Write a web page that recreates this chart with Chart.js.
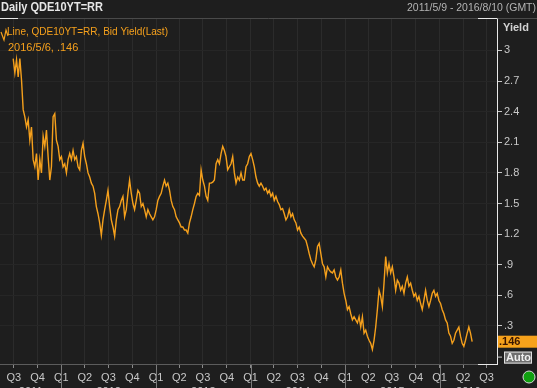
<!DOCTYPE html>
<html>
<head>
<meta charset="utf-8">
<script src="https://cdn.jsdelivr.net/npm/chart.js@4/dist/chart.umd.min.js"></script>
<style>
  html, body { margin: 0; padding: 0; background: #1e1e1e; overflow: hidden; }
  #wrap { width: 537px; height: 388px; }
</style>
</head>
<body>
<div id="wrap"><canvas id="c" width="537" height="388"></canvas></div>
<script>
// ---- Data ----
const titleText = 'Daily QDE10YT=RR';
const rangeText = '2011/5/9 - 2016/8/10 (GMT)';
const seriesName = 'Line, QDE10YT=RR, Bid Yield(Last)';
const lastLabel = '2016/5/6, .146';
const lastValueText = '.146';
const axisStartDate = '2011-05-09';
const axisEndDate = '2016-08-10';
const firstSampleDate = '2011-06-29';
const lastSampleDate = '2016-05-06';

// roughly weekly samples of the bid yield (%)
const yields = [
  2.92,2.78,2.91,2.74,2.92,2.71,2.42,2.35,2.25,2.32,
  2.12,2.25,1.93,1.86,1.99,1.73,1.93,1.80,2.16,2.06,
  2.22,1.96,1.73,1.86,2.35,2.38,2.12,2.06,1.93,1.96,
  1.86,1.89,1.80,1.93,1.99,1.93,2.02,1.93,1.96,1.86,
  1.83,2.02,2.09,1.96,1.89,1.80,1.76,1.70,1.67,1.60,
  1.47,1.40,1.31,1.19,1.34,1.44,1.53,1.63,1.47,1.34,
  1.27,1.18,1.34,1.44,1.47,1.53,1.57,1.37,1.44,1.60,
  1.73,1.60,1.50,1.44,1.53,1.63,1.60,1.47,1.50,1.44,
  1.37,1.44,1.40,1.37,1.34,1.37,1.44,1.53,1.57,1.60,
  1.67,1.73,1.67,1.70,1.63,1.53,1.47,1.44,1.37,1.34,
  1.31,1.27,1.27,1.24,1.24,1.21,1.31,1.37,1.44,1.50,
  1.57,1.60,1.58,1.83,1.73,1.67,1.57,1.53,1.70,1.70,
  1.71,1.73,1.89,1.93,1.89,1.99,2.06,2.02,1.96,1.83,
  1.86,1.89,1.96,1.80,1.70,1.76,1.73,1.80,1.73,1.73,
  1.86,1.89,1.96,1.99,1.93,1.86,1.76,1.70,1.67,1.70,
  1.67,1.63,1.65,1.60,1.63,1.57,1.60,1.53,1.57,1.52,
  1.49,1.44,1.45,1.40,1.34,1.37,1.44,1.37,1.40,1.34,
  1.31,1.24,1.27,1.21,1.18,1.16,1.14,1.08,1.01,0.95,
  0.91,0.88,0.95,1.08,1.11,1.01,0.91,0.88,0.78,0.88,
  0.85,0.83,0.82,0.85,0.78,0.75,0.78,0.85,0.72,0.62,
  0.55,0.46,0.49,0.42,0.36,0.39,0.36,0.33,0.39,0.29,
  0.39,0.23,0.26,0.20,0.16,0.13,0.07,0.16,0.29,0.46,
  0.65,0.59,0.49,0.72,0.98,0.82,0.91,0.82,0.88,0.78,
  0.65,0.75,0.72,0.65,0.69,0.62,0.72,0.78,0.69,0.72,
  0.65,0.59,0.62,0.55,0.59,0.52,0.46,0.55,0.65,0.55,
  0.49,0.55,0.62,0.65,0.59,0.62,0.55,0.52,0.46,0.42,
  0.36,0.33,0.23,0.20,0.13,0.16,0.23,0.26,0.29,0.20,
  0.13,0.10,0.16,0.23,0.29,0.23,0.146
];

const quarterDates = ['2011-07-01','2011-10-01','2012-01-01','2012-04-01','2012-07-01','2012-10-01',
  '2013-01-01','2013-04-01','2013-07-01','2013-10-01','2014-01-01','2014-04-01','2014-07-01','2014-10-01',
  '2015-01-01','2015-04-01','2015-07-01','2015-10-01','2016-01-01','2016-04-01','2016-07-01'];
const quarterLabels = ['Q3','Q4','Q1','Q2','Q3','Q4','Q1','Q2','Q3','Q4','Q1','Q2','Q3','Q4',
  'Q1','Q2','Q3','Q4','Q1','Q2','Q3'];
const yearLabels = ['2011','2012','2013','2014','2015','2016'];
const yearStarts = ['2011-01-01','2012-01-01','2013-01-01','2014-01-01','2015-01-01','2016-01-01','2017-01-01'];
const yTickValues = [0.3,0.6,0.9,1.2,1.5,1.8,2.1,2.4,2.7,3.0];
const yMin = -0.0725, yMax = 3.318;

// ---- helpers ----
const day = s => Date.parse(s + 'T00:00:00Z') / 864e5;
const xMin = day(axisStartDate), xMax = day(axisEndDate);
const x0 = day(firstSampleDate), x1 = day(lastSampleDate);
const points = yields.map((v, i) => ({ x: x0 + (x1 - x0) * i / (yields.length - 1), y: v }));
const fmtY = v => { const s = (Math.round(v * 10) / 10).toString(); return s.startsWith('0.') ? s.slice(1) : s; };

const FONT = '"Liberation Sans", Arial, sans-serif';
const ORANGE = '#f5a01c';

function fitText(ctx, text, x, y, maxW) {
  const w = ctx.measureText(text).width;
  if (w <= maxW) { ctx.fillText(text, x, y); return; }
  const k = maxW / w;
  ctx.save();
  ctx.translate(x, y);
  ctx.scale(k, 1);
  ctx.fillText(text, 0, 0);
  ctx.restore();
}

const overlay = {
  id: 'overlay',
  beforeDraw(chart) {
    const ctx = chart.ctx;
    ctx.save();
    ctx.fillStyle = '#1e1e1e';
    ctx.fillRect(0, 0, chart.width, chart.height);
    ctx.restore();
  },
  afterDraw(chart) {
    const ctx = chart.ctx, a = chart.chartArea, xs = chart.scales.x, ys = chart.scales.y;
    ctx.save();
    // title bar
    ctx.fillStyle = '#e6e6e6';
    ctx.font = 'bold 12px ' + FONT;
    ctx.textBaseline = 'middle';
    ctx.textAlign = 'left';
    fitText(ctx, titleText, 1, 8, 102);
    ctx.fillStyle = '#b4b4b4';
    ctx.font = '11px ' + FONT;
    const rw = Math.min(ctx.measureText(rangeText).width, 129);
    fitText(ctx, rangeText, 536 - rw, 8, 129);
    // separator line under title
    ctx.strokeStyle = '#4a4a4a';
    ctx.lineWidth = 1;
    ctx.beginPath(); ctx.moveTo(0, a.top + 0.5); ctx.lineTo(chart.width, a.top + 0.5); ctx.stroke();
    // white corner segments
    ctx.strokeStyle = '#e8e8e8';
    ctx.beginPath();
    ctx.moveTo(0, a.top + 0.5); ctx.lineTo(18, a.top + 0.5);
    ctx.moveTo(a.right - 19, a.top + 0.5); ctx.lineTo(a.right + 0.5, a.top + 0.5);
    ctx.moveTo(a.right - 19, a.bottom + 0.5); ctx.lineTo(a.right + 0.5, a.bottom + 0.5);
    ctx.stroke();
    // legend icon
    ctx.strokeStyle = ORANGE;
    ctx.lineWidth = 1.2;
    ctx.beginPath();
    ctx.moveTo(1, 32); ctx.lineTo(4, 40); ctx.lineTo(6, 30); ctx.lineTo(8, 36);
    ctx.stroke();
    // legend text
    ctx.fillStyle = ORANGE;
    ctx.font = '11px ' + FONT;
    ctx.textAlign = 'left';
    ctx.textBaseline = 'middle';
    fitText(ctx, seriesName, 7, 32, 161);
    ctx.fillText(lastLabel, 8, 48);
    // y axis title
    ctx.fillStyle = '#d2d2d2';
    ctx.font = 'bold 11px ' + FONT;
    ctx.fillText('Yield', 503, 28);
    // last value box
    const yl = ys.getPixelForValue(yields[yields.length - 1]);
    ctx.fillStyle = '#f7a21b';
    ctx.fillRect(a.right + 1, yl - 6, chart.width - a.right - 1, 12);
    ctx.fillStyle = '#3a1600';
    ctx.font = 'bold 11px ' + FONT;
    ctx.fillText(lastValueText, a.right + 2, yl);
    // Auto box
    const y0 = ys.getPixelForValue(0);
    ctx.strokeStyle = '#cfcfcf';
    ctx.lineWidth = 1;
    ctx.beginPath(); ctx.moveTo(a.right, y0 + 0.5); ctx.lineTo(a.right + 5, y0 + 0.5); ctx.stroke();
    ctx.fillStyle = '#6e6e6e';
    ctx.fillRect(504, y0 - 5, 28, 12);
    ctx.strokeStyle = '#e0e0e0';
    ctx.strokeRect(504.5, y0 - 4.5, 27, 11);
    ctx.fillStyle = '#f0f0f0';
    ctx.font = 'bold 11px ' + FONT;
    ctx.fillText('Auto', 506, y0 + 1);
    // green status circle
    ctx.beginPath();
    ctx.arc(529, 377, 6, 0, Math.PI * 2);
    ctx.fillStyle = '#10a010';
    ctx.fill();
    ctx.strokeStyle = '#d8d8d8';
    ctx.lineWidth = 1;
    ctx.stroke();
    // year separators and labels
    ctx.strokeStyle = '#7a7a7a';
    ctx.fillStyle = '#c8c8c8';
    ctx.font = '11px ' + FONT;
    ctx.textAlign = 'center';
    ctx.textBaseline = 'top';
    for (let i = 0; i < yearLabels.length; i++) {
      const s = Math.max(day(yearStarts[i]), xMin), e = Math.min(day(yearStarts[i + 1]), xMax);
      const px = xs.getPixelForValue(day(yearStarts[i]));
      if (day(yearStarts[i]) > xMin) {
        ctx.beginPath(); ctx.moveTo(Math.round(px) + 0.5, a.bottom + 1); ctx.lineTo(Math.round(px) + 0.5, chart.height); ctx.stroke();
      }
      const cx = (xs.getPixelForValue(s) + xs.getPixelForValue(e)) / 2;
      ctx.fillText(yearLabels[i], cx, 386.5);
    }
    ctx.restore();
  }
};

new Chart(document.getElementById('c'), {
  type: 'line',
  data: {
    datasets: [{
      data: points,
      borderColor: ORANGE,
      borderWidth: 1.4,
      pointRadius: 0,
      tension: 0,
      fill: false
    }]
  },
  options: {
    responsive: false,
    animation: false,
    devicePixelRatio: 1,
    layout: { padding: { top: 18, left: 0, right: 0, bottom: 0 } },
    plugins: { legend: { display: false }, tooltip: { enabled: false } },
    scales: {
      x: {
        type: 'linear',
        position: 'bottom',
        min: xMin, max: xMax,
        afterBuildTicks: s => { s.ticks = quarterDates.map(d => ({ value: day(d) })); },
        afterFit: s => { s.height = 24; },
        ticks: {
          autoSkip: false, maxRotation: 0, minRotation: 0,
          color: '#c8c8c8', font: { family: FONT, size: 11 }, padding: 3,
          callback: (v, i) => quarterLabels[i]
        },
        grid: { color: '#2b2b2b', tickColor: '#8a8a8a', tickLength: 4, drawTicks: true },
        border: { color: '#5c5c5c' }
      },
      y: {
        position: 'right',
        min: yMin, max: yMax,
        afterBuildTicks: s => { s.ticks = yTickValues.map(v => ({ value: v })); },
        afterFit: s => { s.width = 40; },
        ticks: {
          color: '#c8c8c8', font: { family: FONT, size: 11 }, padding: 2,
          callback: v => fmtY(v)
        },
        grid: { color: '#262626', tickColor: '#c8c8c8', tickLength: 5 },
        border: { color: '#e8e8e8' }
      }
    }
  },
  plugins: [overlay]
});
</script>
</body>
</html>
